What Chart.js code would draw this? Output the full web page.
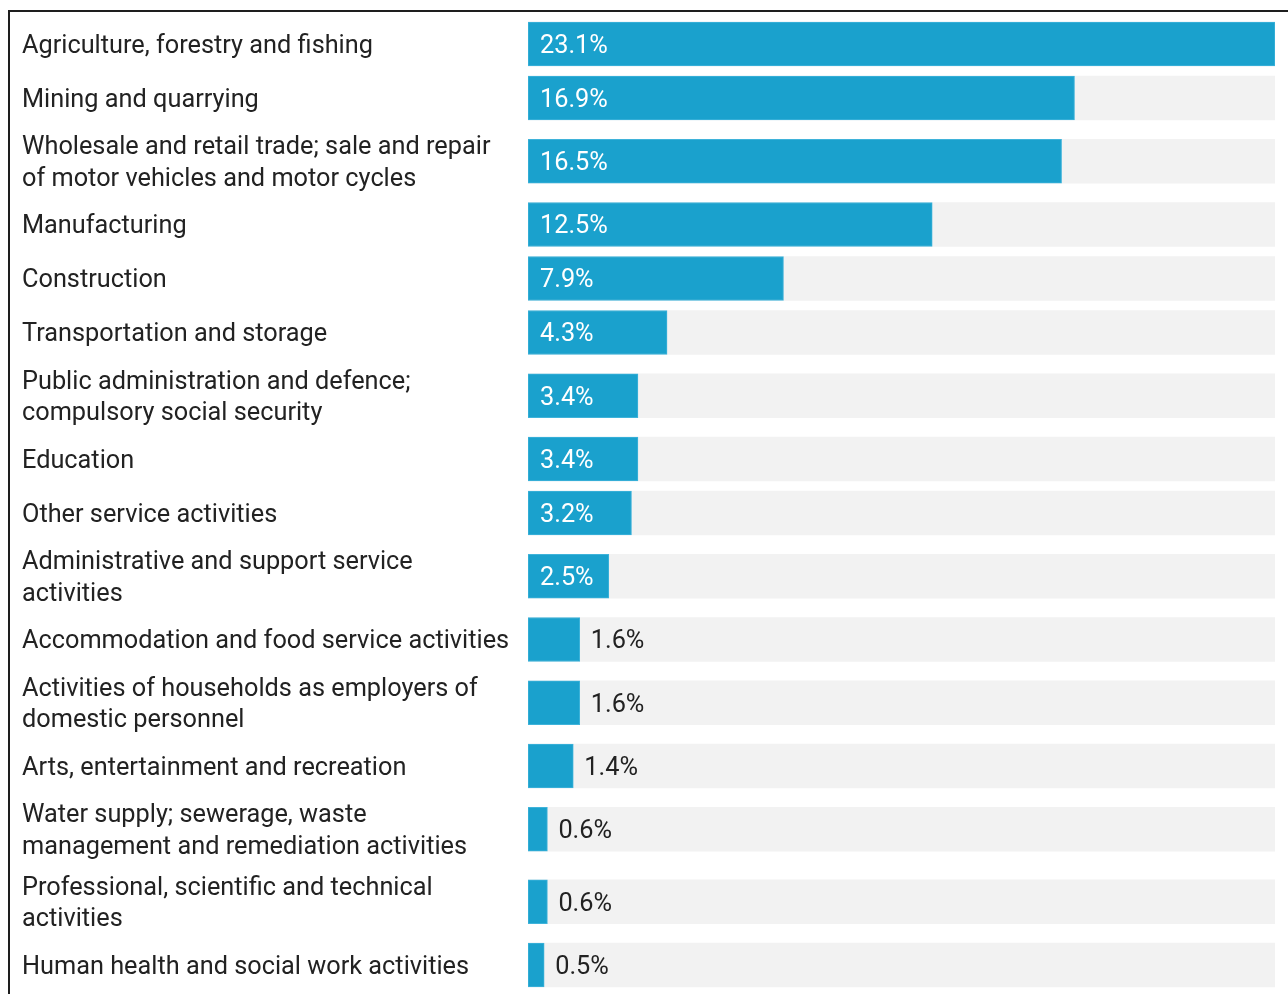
<!DOCTYPE html>
<html>
<head>
<meta charset="utf-8">
<script src="https://cdn.jsdelivr.net/npm/chart.js@4.4.1/dist/chart.umd.min.js"></script>
<style>
  html, body { margin: 0; padding: 0; background: #fff; }
  #wrap { position: relative; width: 1288px; height: 994px; overflow: hidden; }
  #frame { position: absolute; left: 8px; top: 10px; right: -10px; bottom: -10px;
           border-top: 2px solid #1e1e1e; border-left: 2px solid #1e1e1e; }
</style>
</head>
<body>
<div id="wrap">
  <canvas id="chart" width="1288" height="994"></canvas>
  <div id="frame"></div>
</div>
<script>
// sectors, each one an array of label lines
const categories = [
    ['Agriculture, forestry and fishing'],
    ['Mining and quarrying'],
    ['Wholesale and retail trade; sale and repair', 'of motor vehicles and motor cycles'],
    ['Manufacturing'],
    ['Construction'],
    ['Transportation and storage'],
    ['Public administration and defence;', 'compulsory social security'],
    ['Education'],
    ['Other service activities'],
    ['Administrative and support service', 'activities'],
    ['Accommodation and food service activities'],
    ['Activities of households as employers of', 'domestic personnel'],
    ['Arts, entertainment and recreation'],
    ['Water supply; sewerage, waste', 'management and remediation activities'],
    ['Professional, scientific and technical', 'activities'],
    ['Human health and social work activities']
];
const shares = [23.1, 16.9, 16.5, 12.5, 7.9, 4.3, 3.4, 3.4, 3.2, 2.5, 1.6, 1.6, 1.4, 0.6, 0.6, 0.5];

const maxShare = Math.max(...shares);
const BLUE = '#1aa1cd';
const GREY = '#f2f2f2';
const TEXT = '#222222';
const FONT = 'Roboto';
const FONT_SIZE = 25.3;

// rows with two label lines take more room, so place them on a linear axis
let rowPos = [], total = 0;
categories.forEach(lines => {
    const h = 54 + 18.5 * (lines.length - 1);
    rowPos.push(total + h / 2);
    total += h;
});

const valueLabels = {
    id: 'valueLabels',
    afterDatasetsDraw(chart) {
        const ctx = chart.ctx;
        const meta = chart.getDatasetMeta(0);
        ctx.save();
        ctx.font = FONT_SIZE + 'px ' + FONT;
        ctx.textBaseline = 'middle';
        ctx.textAlign = 'left';
        meta.data.forEach((bar, i) => {
            const txt = shares[i].toFixed(1) + '%';
            const w = ctx.measureText(txt).width;
            const left = Math.min(bar.base, bar.x), right = Math.max(bar.base, bar.x);
            // roboto sits a little high with a middle baseline
            if (right - left >= w + 24) {
                ctx.fillStyle = '#ffffff';
                ctx.fillText(txt, left + 12, bar.y + 2.5);
            } else {
                ctx.fillStyle = TEXT;
                ctx.fillText(txt, right + 11, bar.y + 2.5);
            }
        });
        ctx.restore();
    }
};

new Chart(document.getElementById('chart'), {
    type: 'bar',
    data: {
        datasets: [{
            label: 'Share',
            data: shares.map((v, i) => ({ x: v, y: rowPos[i] })),
            backgroundColor: BLUE,
            borderColor: '#3fb3da',
            borderWidth: 1,
            borderSkipped: false,
            barThickness: 44,
            grouped: false,
            order: 0
        }, {
            label: 'Track',
            data: shares.map((v, i) => ({ x: maxShare, y: rowPos[i] })),
            backgroundColor: GREY,
            borderWidth: 0,
            barThickness: 44,
            grouped: false,
            order: 1
        }]
    },
    options: {
        indexAxis: 'y',
        responsive: false,
        animation: false,
        layout: { padding: { left: 22, right: 13, top: 17, bottom: 2 } },
        plugins: { legend: { display: false }, tooltip: { enabled: false } },
        scales: {
            x: { type: 'linear', min: 0, max: maxShare, display: false },
            y: {
                type: 'linear',
                reverse: true,
                offset: false,
                min: 0,
                max: total,
                grid: { display: false },
                border: { display: false },
                // nudge labels down a touch so they sit level with the bars
                afterBuildTicks: (scale) => { scale.ticks = rowPos.map(v => ({ value: v + 2.5 })); },
                afterFit: (scale) => {
                    scale.width = 506;
                    scale.paddingTop = 0;
                    scale.paddingBottom = 0;
                },
                ticks: {
                    autoSkip: false,
                    crossAlign: 'far',
                    color: TEXT,
                    font: { family: FONT, size: FONT_SIZE, lineHeight: 1.24 },
                    callback: (v, i) => categories[i]
                }
            }
        }
    },
    plugins: [valueLabels]
});
</script>
</body>
</html>
